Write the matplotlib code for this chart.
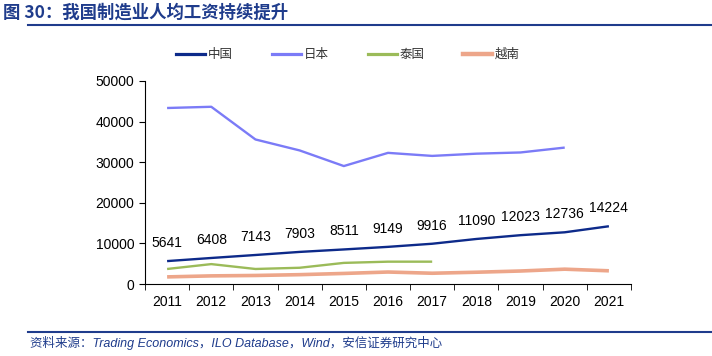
import numpy as np
import matplotlib.pyplot as plt
from matplotlib.lines import Line2D

plt.rcParams['font.family'] = ['Liberation Sans', 'Noto Sans CJK SC', 'DejaVu Sans']

years = ['2011', '2012', '2013', '2014', '2015', '2016', '2017', '2018', '2019', '2020', '2021']
china = [5641, 6408, 7143, 7903, 8511, 9149, 9916, 11090, 12023, 12736, 14224]
japan = [43350, 43650, 35600, 32900, 29050, 32300, 31550, 32100, 32400, 33600]
thailand = [3700, 4900, 3700, 4000, 5200, 5500, 5500]
vietnam = [1750, 2000, 2100, 2300, 2600, 2950, 2650, 2900, 3200, 3650, 3250]
names = ['中国', '日本', '泰国', '越南']

blue_title = '#1F3C8C'
c_china = '#0D2A8A'
c_japan = '#7B7BF7'
c_thai = '#9BBB59'
c_viet = '#EDA68A'
colors = [c_china, c_japan, c_thai, c_viet]
widths = [1.7, 1.7, 1.7, 2.6]

fig = plt.figure(figsize=(7.12, 3.56), dpi=100)
ax = fig.add_axes([145 / 712, 1 - 284 / 356, 486 / 712, 203 / 356])

x = np.arange(len(years))
series = [china, japan, thailand, vietnam]
for vals, c, w in zip(series, colors, widths):
    ax.plot(x[:len(vals)], vals, color=c, lw=w, solid_capstyle='butt')

for xi, v in zip(x, china):
    ax.annotate(str(v), (xi, v), xytext=(0, 8), textcoords='offset points',
                ha='center', va='bottom', fontsize=10)

ax.set_xlim(-0.5, len(years) - 0.5)
ax.set_ylim(0, 50000)
ax.set_yticks(range(0, 50001, 10000))
ax.set_xticks(x)
ax.set_xticklabels(years, fontsize=10)
ax.tick_params(axis='x', length=0, pad=8)
ax.set_xticks(np.arange(-0.5, len(years)), minor=True)
ax.tick_params(axis='x', which='minor', length=4, direction='out')
ax.tick_params(axis='y', labelsize=10, length=4, direction='out')
for s in ['top', 'right']:
    ax.spines[s].set_visible(False)

# legend drawn by hand to match spacing
leg_x = [176, 272, 368, 463]
for lx, name, c, w in zip(leg_x, names, colors, widths):
    fig.add_artist(Line2D([lx / 712, (lx + 29) / 712], [1 - 54 / 356] * 2,
                          color=c, lw=w + 0.6))
    fig.text((lx + 32) / 712, 1 - 58 / 356, name, fontsize=9, va='baseline',
             color='#333333', family=['Noto Sans CJK SC'])

fig.text(3 / 712, 1 - 13 / 356, '图 30：我国制造业人均工资持续提升', fontsize=12.5,
         fontweight='bold', color=blue_title, va='center',
         family=['Noto Sans CJK SC', 'DejaVu Sans'])
fig.add_artist(Line2D([28 / 712, 1.0], [1 - 25 / 356] * 2, color=blue_title, lw=1.5))
fig.add_artist(Line2D([28 / 712, 1.0], [1 - 332 / 356] * 2, color=blue_title, lw=1.5))
fig.text(30 / 712, 1 - 343 / 356,
         '资料来源：Trading Economics，ILO Database，Wind，安信证券研究中心',
         fontsize=9, style='italic', color=blue_title, va='center',
         family=['Liberation Sans', 'Noto Sans CJK SC'])

fig.savefig('out.png', dpi=100)
